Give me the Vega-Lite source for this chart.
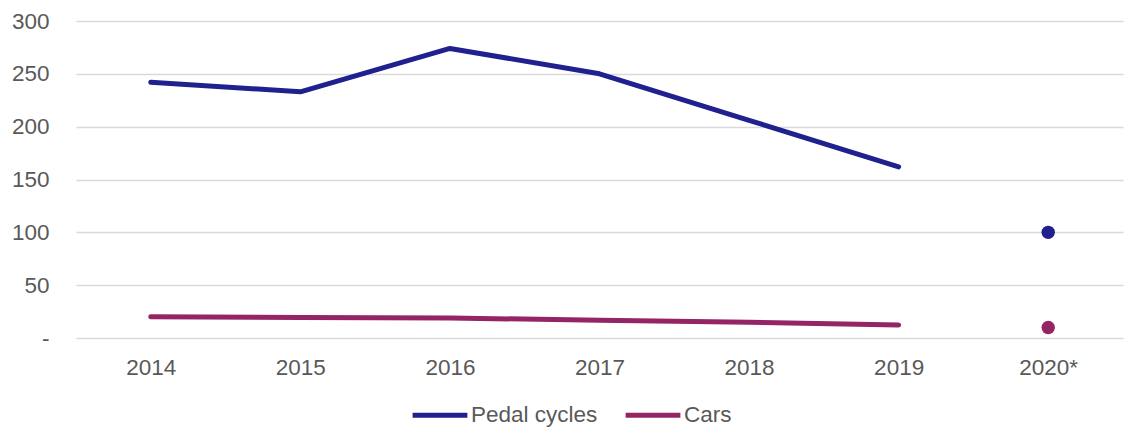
{
  "$schema": "https://vega.github.io/schema/vega-lite/v6.json",
  "width": 1047,
  "height": 317,
  "autosize": {"type": "none"},
  "padding": {"left": 76, "top": 21, "right": 17, "bottom": 101},
  "background": "white",
  "config": {
    "view": {"stroke": null},
    "font": "Liberation Sans",
    "axis": {"labelFont": "Liberation Sans", "labelFontSize": 22.5, "labelColor": "#595959", "domain": false, "ticks": false, "tickSize": 0, "title": null},
    "legend": {"labelFont": "Liberation Sans", "labelFontSize": 22.5, "labelColor": "#595959"}
  },
  "data": {
    "values": [
      {"year": "2014", "series": "Pedal cycles", "value": 242},
      {"year": "2015", "series": "Pedal cycles", "value": 233},
      {"year": "2016", "series": "Pedal cycles", "value": 274},
      {"year": "2017", "series": "Pedal cycles", "value": 250},
      {"year": "2018", "series": "Pedal cycles", "value": 206},
      {"year": "2019", "series": "Pedal cycles", "value": 162},
      {"year": "2020*", "series": "Pedal cycles", "value": 100},
      {"year": "2014", "series": "Cars", "value": 20},
      {"year": "2015", "series": "Cars", "value": 19.5},
      {"year": "2016", "series": "Cars", "value": 19},
      {"year": "2017", "series": "Cars", "value": 16.7},
      {"year": "2018", "series": "Cars", "value": 14.8},
      {"year": "2019", "series": "Cars", "value": 12.4},
      {"year": "2020*", "series": "Cars", "value": 10}
    ]
  },
  "encoding": {
    "x": {
      "field": "year", "type": "ordinal", "sort": null,
      "scale": {"type": "point", "padding": 0.5},
      "axis": {"labelAngle": 0, "labelPadding": 18, "grid": false}
    },
    "y": {
      "field": "value", "type": "quantitative",
      "scale": {"domain": [0, 300], "nice": false, "zero": true},
      "axis": {
        "values": [0, 50, 100, 150, 200, 250, 300],
        "labelPadding": 27,
        "grid": true, "gridColor": "#d9d9d9", "gridWidth": 1.5,
        "labelExpr": "datum.value == 0 ? '-\u00a0\u00a0' : datum.label"
      }
    }
  },
  "layer": [
    {
      "transform": [{"filter": "datum.year != '2020*'"}],
      "mark": {"type": "line", "strokeWidth": 5, "strokeCap": "round", "strokeJoin": "round"},
      "encoding": {
        "stroke": {
          "field": "series", "type": "nominal",
          "scale": {"domain": ["Pedal cycles", "Cars"], "range": ["#20208f", "#942464"]},
          "legend": {
            "title": null, "orient": "none", "direction": "horizontal",
            "legendX": 334, "legendY": 364,
            "symbolType": "stroke", "symbolSize": 3000, "symbolStrokeWidth": 5,
            "labelOffset": 1, "columnPadding": 17
          }
        }
      }
    },
    {
      "transform": [{"filter": "datum.year == '2020*'"}],
      "mark": {"type": "point", "filled": true, "size": 180, "opacity": 1},
      "encoding": {
        "fill": {
          "field": "series", "type": "nominal",
          "scale": {"domain": ["Pedal cycles", "Cars"], "range": ["#20208f", "#942464"]},
          "legend": null
        }
      }
    }
  ]
}
